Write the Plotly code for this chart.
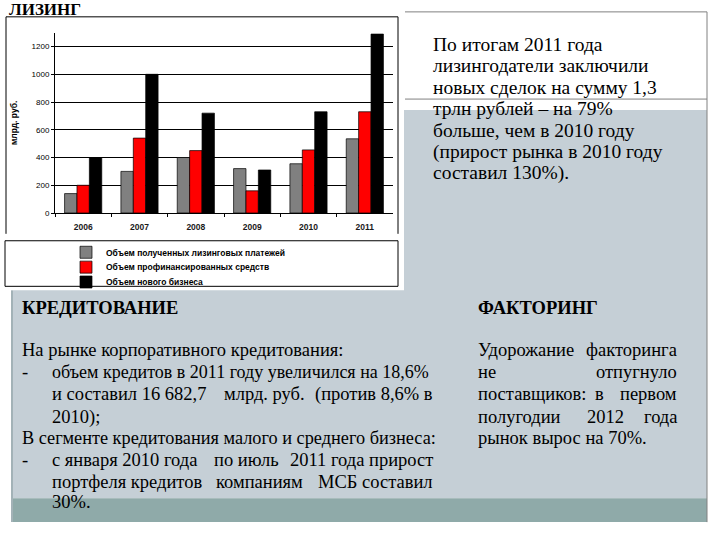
import plotly.graph_objects as go

W, H = 720, 540

years = ["2006", "2007", "2008", "2009", "2010", "2011"]
payments = [140, 300, 400, 320, 355, 535]
financed = [200, 540, 450, 160, 455, 730]
new_business = [400, 1000, 720, 310, 730, 1290]

series_names = [
    "Объем полученных лизинговых платежей",
    "Объем профинансированных средств",
    "Объем нового бизнеса",
]
series_colors = ["#808080", "#FF0000", "#000000"]

y_ticks = [0, 200, 400, 600, 800, 1000, 1200]


def px(x):
    return x / W


def py(y):
    return 1 - y / H


fig = go.Figure()
legend_ids = ["legend", "legend2", "legend3"]
for name, vals, col, lg in zip(series_names, [payments, financed, new_business], series_colors, legend_ids):
    fig.add_trace(go.Bar(
        x=years, y=vals, name=name, legend=lg,
        marker=dict(color=col, line=dict(color="#000000", width=0.7)),
    ))

shapes = []
shapes.append(dict(type="rect", xref="paper", yref="paper", x0=px(11), x1=px(707), y0=py(503), y1=py(111),
                   fillcolor="#C5CFD6", line=dict(width=0), layer="below"))
shapes.append(dict(type="rect", xref="paper", yref="paper", x0=px(11), x1=px(707), y0=py(527), y1=py(503),
                   fillcolor="#8FAAA9", line=dict(width=0), layer="below"))
shapes.append(dict(type="line", xref="paper", yref="paper", x0=px(12), x1=px(12), y0=py(527), y1=py(293),
                   line=dict(color="#A3B2B7", width=2), layer="below"))
shapes.append(dict(type="rect", xref="paper", yref="paper", x0=px(0), x1=px(404), y0=py(293), y1=py(0),
                   fillcolor="#FFFFFF", line=dict(width=0), layer="below"))
for yy in (12, 100):
    shapes.append(dict(type="line", xref="paper", yref="paper", x0=px(405), x1=px(707), y0=py(yy), y1=py(yy),
                       line=dict(color="#808080", width=1), layer="below"))
shapes.append(dict(type="line", xref="paper", yref="paper", x0=px(707), x1=px(707), y0=py(527), y1=py(12),
                   line=dict(color="#808080", width=1), layer="below"))
shapes.append(dict(type="line", xref="paper", yref="paper", x0=px(6), x1=px(398), y0=py(17), y1=py(17),
                   line=dict(color="#000000", width=1)))
shapes.append(dict(type="line", xref="paper", yref="paper", x0=px(6), x1=px(6), y0=py(236), y1=py(17),
                   line=dict(color="#000000", width=1)))
shapes.append(dict(type="line", xref="paper", yref="paper", x0=px(398), x1=px(398), y0=py(236), y1=py(17),
                   line=dict(color="#000000", width=1)))
shapes.append(dict(type="rect", xref="paper", yref="paper", x0=px(5), x1=px(398), y0=py(289), y1=py(243),
                   fillcolor="rgba(0,0,0,0)", line=dict(color="#000000", width=1)))

annotations = []
SERIF = "Liberation Serif"


def txt(x, y, s, size=18.5, family=SERIF, bold=False, anchor="left"):
    if bold:
        s = "<b>" + s + "</b>"
    annotations.append(dict(xref="paper", yref="paper", x=px(x), y=py(y), text=s, showarrow=False,
                            xanchor=anchor, yanchor="middle",
                            font=dict(family=family, size=size, color="#000000")))


txt(7, 10, "ЛИЗИНГ", size=17, bold=True)

right_lines = [
    "По итогам 2011 года",
    "лизингодатели заключили",
    "новых сделок на сумму 1,3",
    "трлн рублей – на 79%",
    "больше, чем в 2010 году",
    "(прирост рынка в 2010 году",
    "составил 130%).",
]
for i, s in enumerate(right_lines):
    txt(431, 45 + i * 21.6, s, size=19.5)

txt(20, 311, "КРЕДИТОВАНИЕ", size=18.5, bold=True)
txt(476, 311, "ФАКТОРИНГ", size=18.5, bold=True)

L, IND, R = 20, 50, 435
ys = [353, 375, 398, 421, 442, 464, 486, 507]
txt(L, ys[0], "На рынке корпоративного кредитования:")
txt(L, ys[1], "-")
txt(IND, ys[1], "объем кредитов в 2011 году увеличился на 18,6%", size=18)
txt(IND, ys[2], "и составил 16 682,7")
txt(264, ys[2], "млрд. руб.", anchor="center")
txt(R, ys[2], "(против 8,6% в", anchor="right")
txt(IND, ys[3], "2010);")
txt(L, ys[4], "В сегменте кредитования малого и среднего бизнеса:", size=18.3)
txt(L, ys[5], "-")
txt(IND, ys[5], "с января 2010 года")
txt(246, ys[5], "по июль", anchor="center")
txt(R, ys[5], "2011 года прирост", anchor="right")
txt(IND, ys[6], "портфеля кредитов")
txt(259, ys[6], "компаниям", anchor="center")
txt(R, ys[6], "МСБ составил", anchor="right")
txt(IND, ys[7], "30%.")

FL, FR = 476, 679
txt(FL, 353, "Удорожание")
txt(FR, 353, "факторинга", anchor="right")
txt(FL, 375, "не")
txt(FR, 375, "отпугнуло", anchor="right")
txt(FL, 398, "поставщиков:")
txt(599, 398, "в", anchor="center")
txt(FR, 398, "первом", anchor="right")
txt(FL, 421, "полугодии")
txt(605, 421, "2012", anchor="center")
txt(FR, 421, "года", anchor="right")
txt(FL, 442, "рынок вырос на 70%.")

leg_common = dict(xanchor="left", yanchor="top", bgcolor="rgba(0,0,0,0)", borderwidth=0,
                  font=dict(family="Liberation Sans", size=8.5, weight="bold", color="#000000"),
                  itemwidth=30, itemclick=False, itemdoubleclick=False)

fig.update_layout(
    width=W, height=H,
    margin=dict(l=0, r=0, t=0, b=0),
    paper_bgcolor="#FFFFFF",
    plot_bgcolor="#C0C0C0",
    barmode="group", bargap=0.34, bargroupgap=0,
    font=dict(family="Liberation Sans", size=8, color="#000000"),
    xaxis=dict(domain=[px(55), px(393)], anchor="y", type="category",
               showline=True, linecolor="#000000", linewidth=1,
               ticks="outside", tickson="boundaries", ticklen=3, tickcolor="#000000",
               ticklabelstandoff=6,
               tickfont=dict(family="Liberation Sans", size=8.5, color="#1a1a1a", weight="bold"),
               showgrid=False),
    yaxis=dict(domain=[py(215), py(33)], anchor="x", range=[0, 1300],
               tickvals=y_ticks, showline=True, linecolor="#000000", linewidth=1,
               ticks="outside", ticklen=3, tickcolor="#000000",
               showgrid=True, gridcolor="#000000", gridwidth=1, zeroline=False,
               tickfont=dict(family="Liberation Sans", size=8),
               title=dict(text="<b>млрд. руб.</b>", font=dict(family="Liberation Sans", size=8.5), standoff=12)),
    legend=dict(x=px(66), y=py(240), **leg_common),
    legend2=dict(x=px(66), y=py(255), **leg_common),
    legend3=dict(x=px(66), y=py(270), **leg_common),
    showlegend=True,
    shapes=shapes,
    annotations=annotations,
)

fig.write_html("out.html", config={"displayModeBar": False},
               post_script="document.body.style.margin='0';document.body.style.padding='0';")
